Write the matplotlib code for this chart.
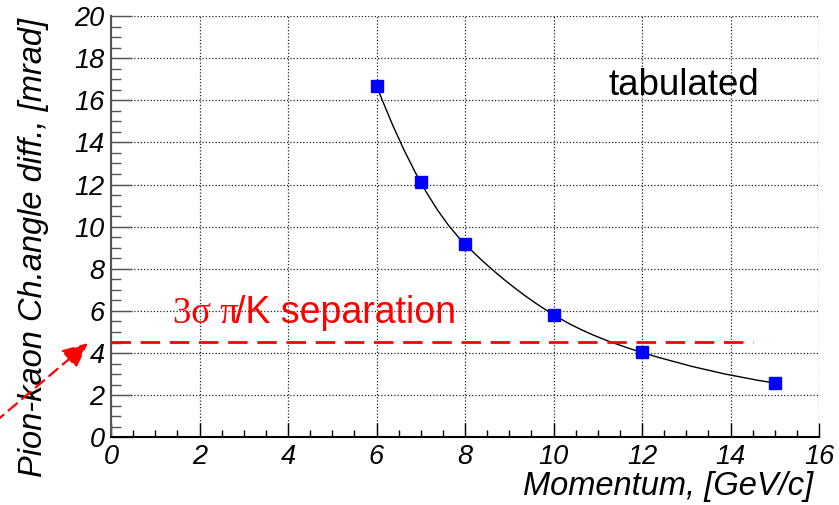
import numpy as np
import matplotlib
matplotlib.use("Agg")
import matplotlib.pyplot as plt
from matplotlib.path import Path
from matplotlib.patches import PathPatch, FancyArrowPatch
from matplotlib.ticker import MultipleLocator

# ---- data ----
momentum = [6, 7, 8, 10, 12, 15]
angle_diff = [16.7, 12.1, 9.17, 5.82, 4.03, 2.58]
separation_level = 4.54
separation_range = [0.0, 14.5]
x_ticks = [0, 2, 4, 6, 8, 10, 12, 14, 16]
y_ticks = [0, 2, 4, 6, 8, 10, 12, 14, 16, 18, 20]

SANS = "Liberation Sans"
SERIF = "Liberation Serif"

fig = plt.figure(figsize=(8.39, 5.05), dpi=100)
ax = fig.add_axes([0.1323, 0.134, 0.8439, 0.8343])
ax.set_xlim(0, 16)
ax.set_ylim(0, 20)

# grid
ax.set_xticks(x_ticks)
ax.set_yticks(y_ticks)
ax.xaxis.set_minor_locator(MultipleLocator(0.5))
ax.yaxis.set_minor_locator(MultipleLocator(0.5))
ax.grid(True, which="major", linestyle=(0, (1, 1.6)), linewidth=0.9, color="#222222")
ax.set_axisbelow(True)

for s in ["top", "right"]:
    ax.spines[s].set_visible(False)
ax.spines["left"].set_color("#555555")
ax.spines["left"].set_linewidth(1.5)
ax.spines["bottom"].set_color("black")
ax.spines["bottom"].set_linewidth(1.5)

ax.tick_params(axis="x", which="major", direction="in", length=10, width=1, pad=5.0)
ax.tick_params(axis="x", which="minor", direction="in", length=5, width=1)
ax.tick_params(axis="y", which="major", direction="in", length=15, width=1, pad=4.5, color="#555555")
ax.tick_params(axis="y", which="minor", direction="in", length=7.5, width=1, color="#555555")
for lab in ax.get_xticklabels() + ax.get_yticklabels():
    lab.set_fontfamily(SANS)
    lab.set_fontstyle("italic")
    lab.set_fontsize(19.5)

# smooth curve through the points (cubic Hermite drawn as Bezier path)
xs = np.asarray(momentum, float)
ys = np.asarray(angle_diff, float)
n = len(xs)
m = np.zeros(n)
for i in range(1, n - 1):
    m[i] = (ys[i + 1] - ys[i - 1]) / (xs[i + 1] - xs[i - 1])
m[0] = 2 * (ys[1] - ys[0]) / (xs[1] - xs[0]) - m[1]
m[-1] = 2 * (ys[-1] - ys[-2]) / (xs[-1] - xs[-2]) - m[-2]
verts = [(xs[0], ys[0])]
codes = [Path.MOVETO]
for i in range(n - 1):
    h = xs[i + 1] - xs[i]
    verts += [(xs[i] + h / 3, ys[i] + m[i] * h / 3),
              (xs[i + 1] - h / 3, ys[i + 1] - m[i + 1] * h / 3),
              (xs[i + 1], ys[i + 1])]
    codes += [Path.CURVE4] * 3
ax.add_patch(PathPatch(Path(verts, codes), fill=False, edgecolor="black", linewidth=1.0, zorder=3))

ax.plot(momentum, angle_diff, linestyle="none", marker="s", markersize=9,
        color="#0000ff", markeredgecolor="#0000ff", zorder=4)

# separation line
ax.plot(separation_range, [separation_level, separation_level], color="red",
        linewidth=2, linestyle=(0, (7, 3.5)), zorder=3)

ax.text(1.39, 5.45, "3σ π", color="red", fontsize=26.5, family=SERIF, va="baseline", ha="left")
ax.text(2.80, 5.45, "/K separation", color="red", fontsize=27, family=SANS, va="baseline", ha="left")
ax.text(11.25, 16.25, "tabulated", color="black", fontsize=26.5, family=SANS, va="baseline", ha="left")

# axis titles
ax.text(0.9915, -0.137, "Momentum, [GeV/c]", transform=ax.transAxes, fontsize=23.5,
        family=SANS, style="italic", ha="right", va="baseline")
ax.text(-0.0975, 0.995, "Pion-kaon Ch.angle diff., [mrad]", transform=ax.transAxes,
        fontsize=23.5, family=SANS, style="italic", rotation=90, rotation_mode="anchor",
        ha="right", va="baseline")

# red dashed arrow from the left edge
arr = FancyArrowPatch((-5 / 839, 1 - 422 / 505), (88 / 839, 1 - 343 / 505),
                      transform=fig.transFigure, arrowstyle="-|>,head_length=1.3,head_width=0.6",
                      mutation_scale=12, color="red", linewidth=1.6, linestyle=(0, (5, 3)),
                      shrinkA=0, shrinkB=0)
fig.patches.append(arr)

fig.savefig("out.png", dpi=100)
